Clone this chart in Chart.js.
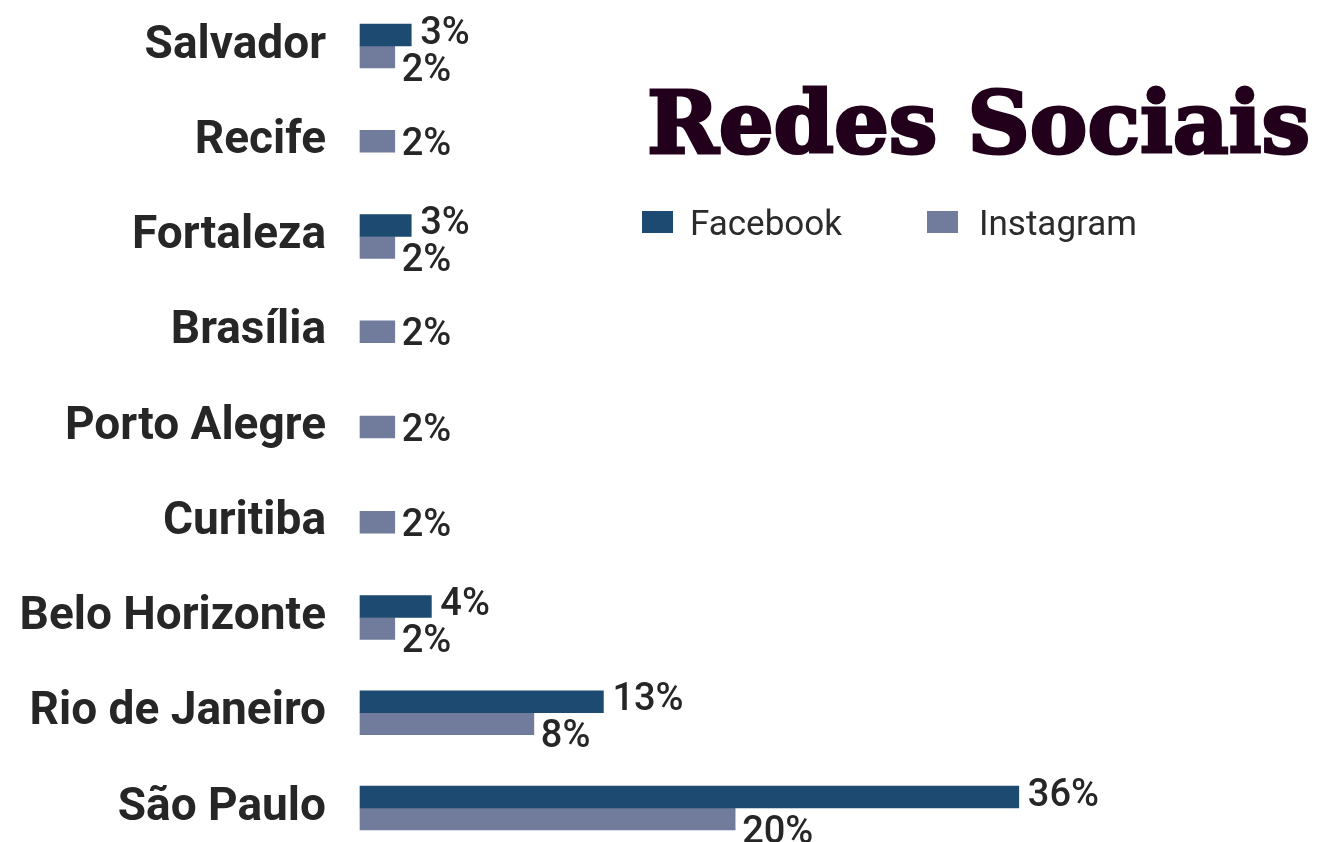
<!DOCTYPE html>
<html>
<head>
<meta charset="utf-8">
<script src="https://cdn.jsdelivr.net/npm/chart.js@4.4.0/dist/chart.umd.min.js"></script>
<style>
body{margin:0;background:#fff}
#wrap{width:1319px;height:842px;position:relative}
</style>
</head>
<body>
<div id="wrap"><canvas id="chart"></canvas></div>
<script>
let cities=["Salvador","Recife","Fortaleza","Brasília","Porto Alegre","Curitiba","Belo Horizonte","Rio de Janeiro","São Paulo"]

// bar lengths as drawn in the picture (the printed labels are rounded)
let facebook=[2.8,null,2.8,null,null,null,3.9,13.3,36]
let instagram=[1.9,1.9,1.9,1.9,1.9,1.9,1.9,9.5,20.5]

let facebookLabels=["3%","","3%","","","","4%","13%","36%"]
let instagramLabels=["2%","2%","2%","2%","2%","2%","2%","8%","20%"]

let titleText="Redes Sociais"

let fbColor="#1c4a70"
let igColor="#717b9b"

let labelPlugin={
id:"labels",
afterDatasetsDraw(chart){
let ctx=chart.ctx
let fbMeta=chart.getDatasetMeta(0)
let igMeta=chart.getDatasetMeta(1)
ctx.save()
ctx.font="500 38px Roboto"
ctx.fillStyle="#262626"
ctx.textAlign="left"
ctx.textBaseline="alphabetic"
cities.forEach((c,i)=>{
let both=facebook[i]!=null && instagram[i]!=null
if(facebook[i]!=null){
let b=fbMeta.data[i]
ctx.fillText(facebookLabels[i],b.x+9,b.y+(both?8.5:13.5))
}
if(instagram[i]!=null){
let b=igMeta.data[i]
ctx.fillText(instagramLabels[i],b.x+7,b.y+(both?23.5:13.5))
}
})
ctx.restore()
}
}

let titlePlugin={
id:"titleLegend",
afterDraw(chart){
let ctx=chart.ctx
ctx.save()
ctx.font="bold 86px 'DejaVu Serif'"
ctx.fillStyle="#22001c"
ctx.strokeStyle="#22001c"
ctx.lineWidth=3
ctx.lineJoin="miter"
ctx.textBaseline="alphabetic"
let w=ctx.measureText(titleText).width
ctx.translate(647,153)
ctx.scale(663/w,1)
ctx.fillText(titleText,0,0)
ctx.strokeText(titleText,0,0)
ctx.restore()

ctx.save()
ctx.font="35px Roboto"
ctx.textBaseline="alphabetic"
let items=[[fbColor,642,690],[igColor,927,979]]
chart.data.datasets.forEach((d,i)=>{
let it=items[i]
ctx.fillStyle=it[0]
ctx.fillRect(it[1],211,31,22)
ctx.fillStyle="#2b2b2b"
ctx.fillText(d.label,it[2],235)
})
ctx.restore()
}
}

new Chart(document.getElementById("chart"),{
type:"bar",
data:{
labels:cities,
datasets:[{
label:"Facebook",
data:facebook,
backgroundColor:fbColor,
barThickness:22,
skipNull:true,
clip:false
},{
label:"Instagram",
data:instagram,
backgroundColor:igColor,
barThickness:22,
skipNull:true,
clip:false
}]
},
options:{
indexAxis:"y",
responsive:true,
maintainAspectRatio:false,
animation:false,
layout:{padding:{top:46,bottom:34,right:44,left:0}},
plugins:{
legend:{display:false},
tooltip:{enabled:false}
},
scales:{
x:{
display:false,
min:0,
max:50
},
y:{
offset:false,
grid:{display:false,drawTicks:false},
border:{display:false},
ticks:{
color:"#262626",
padding:34,
font:{family:"Roboto",size:46,weight:"bold"}
},
afterFit(scale){
scale.width=360
scale.paddingTop=0
scale.paddingBottom=0
}
}
}
},
plugins:[labelPlugin,titlePlugin]
})
</script>
</body>
</html>
